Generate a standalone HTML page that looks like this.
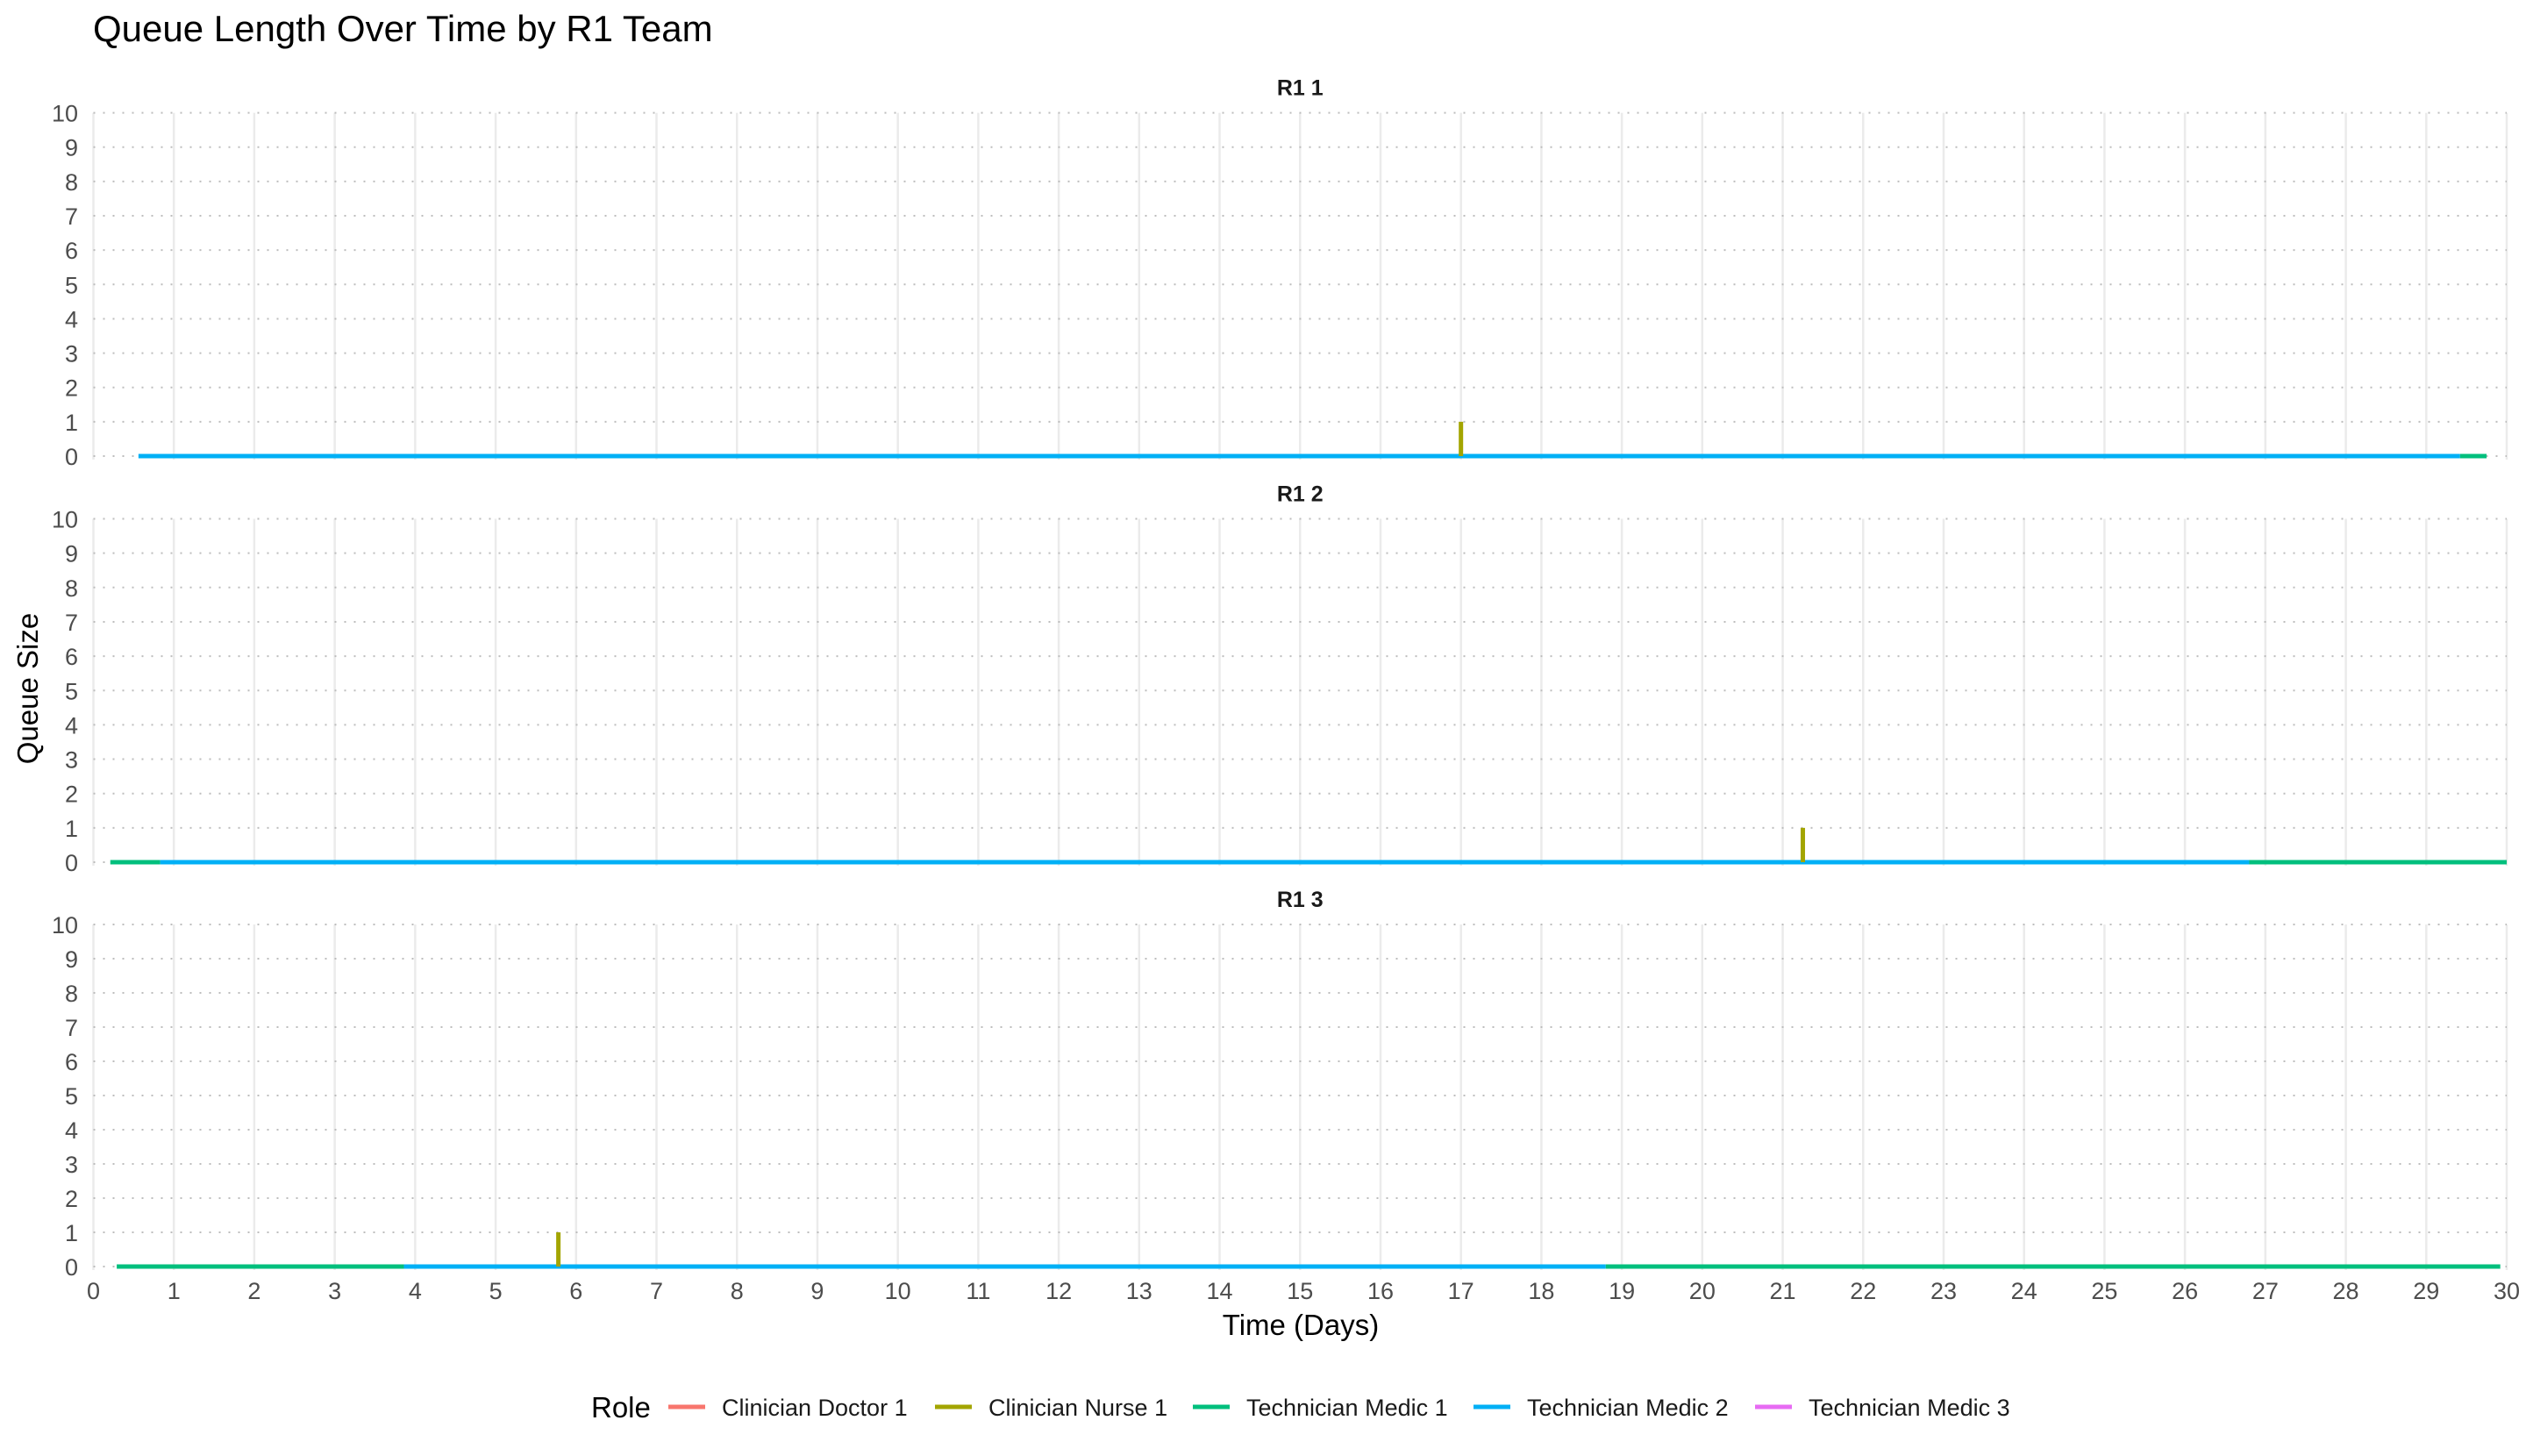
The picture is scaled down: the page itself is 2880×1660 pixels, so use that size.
<!DOCTYPE html>
<html><head><meta charset="utf-8"><style>
html,body{margin:0;padding:0;background:#fff;}
svg{display:block;font-family:"Liberation Sans",Arial,sans-serif;}
</style></head><body>
<svg id="chart" width="2880" height="1660" viewBox="0 0 2880 1660">
<text x="106" y="47" font-size="42" fill="#000">Queue Length Over Time by R1 Team</text>
<text x="1483" y="1522" font-size="33" fill="#000" text-anchor="middle">Time (Days)</text>
<text transform="translate(43,785) rotate(-90)" font-size="33" fill="#000" text-anchor="middle">Queue Size</text>
<g id="panels"></g>
<g id="legend"></g>
</svg>
<script>
const panelNames = ["R1 1", "R1 2", "R1 3"];
const roles = ["Clinician Doctor 1", "Clinician Nurse 1", "Technician Medic 1", "Technician Medic 2", "Technician Medic 3"];
const roleColors = ["#F8766D", "#A3A500", "#00BF7D", "#00B0F6", "#E76BF3"];
const xTicks = [0,1,2,3,4,5,6,7,8,9,10,11,12,13,14,15,16,17,18,19,20,21,22,23,24,25,26,27,28,29,30];
const yTicks = [0,1,2,3,4,5,6,7,8,9,10];
// baseline segments per panel: role index, start day, end day, queue value
const segPanel = [0,0, 1,1,1, 2,2,2];
const segRole  = [3,2, 2,3,2, 2,3,2];
const segStart = [0.56,29.42, 0.21,0.83,26.8, 0.29,3.86,18.8];
const segEnd   = [29.42,29.75, 0.83,26.8,30.0, 3.86,18.8,29.92];
const segValue = [0,0, 0,0,0, 0,0,0];
// nurse spikes
const spikePanel = [0,1,2];
const spikeTime  = [17.0,21.25,5.78];
const spikeValue = [1,1,1];

const NS="http://www.w3.org/2000/svg";
const X0=106.5, X1=2858;
const panelTop=[128.6,591.5,1054], panelBottom=[520,983,1444];
function xs(d){return X0+(d-0)/(30-0)*(X1-X0);}
function ys(p,v){return panelBottom[p]-(v/10)*(panelBottom[p]-panelTop[p]);}
function mk(tag,attrs,parent){const e=document.createElementNS(NS,tag);for(const k in attrs)e.setAttribute(k,attrs[k]);parent.appendChild(e);return e;}
const gp=document.getElementById('panels');
for(let p=0;p<3;p++){
  const g=mk('g',{},gp);
  
  
  const st=mk('text',{x:(X0+X1)/2,y:panelTop[p]-20,'font-size':25,'font-weight':'bold','text-anchor':'middle',fill:'#1a1a1a'},g);
  st.textContent=panelNames[p];
  
  
  xTicks.forEach(t=>{
    const l=mk('line',{x1:xs(t),x2:xs(t),y1:panelTop[p],y2:panelBottom[p]+4,stroke:'#ebebeb','stroke-width':2.5},g);
    
    
  });
  yTicks.forEach(t=>{
    const l=mk('line',{x1:X0,x2:X1,y1:ys(p,t),y2:ys(p,t),stroke:'#bdbdbd','stroke-width':2,'stroke-dasharray':'2 9'},g);
    
    
    const tx=mk('text',{x:89,y:ys(p,t)+10,'font-size':27,'text-anchor':'end',fill:'#4d4d4d'},g);
    tx.textContent=t;
    
    
  });
}
for(let i=0;i<segPanel.length;i++){
  const p=segPanel[i];
  const l=mk('line',{x1:xs(segStart[i]),x2:xs(segEnd[i]),y1:ys(p,segValue[i]),y2:ys(p,segValue[i]),stroke:roleColors[segRole[i]],'stroke-width':5},gp);
  
  
}
for(let i=0;i<spikePanel.length;i++){
  const p=spikePanel[i];
  const l=mk('line',{x1:xs(spikeTime[i]),x2:xs(spikeTime[i]),y1:ys(p,0),y2:ys(p,spikeValue[i]),stroke:roleColors[1],'stroke-width':5},gp);
  
  
}
xTicks.forEach(t=>{
  const tx=mk('text',{x:xs(t),y:1481,'font-size':27,'text-anchor':'middle',fill:'#4d4d4d'},gp);
  tx.textContent=t;
  
  
});
const lg=document.getElementById('legend');
const lt=mk('text',{x:674,y:1616,'font-size':33,fill:'#000'},lg);
lt.textContent='Role';


const keyX=[762,1066,1360,1680,2001];
roles.forEach((r,i)=>{
  const g=mk('g',{},lg);
  
  
  mk('line',{x1:keyX[i],x2:keyX[i]+42,y1:1604,y2:1604,stroke:roleColors[i],'stroke-width':5},g);
  const tx=mk('text',{x:keyX[i]+61,y:1614,'font-size':27,fill:'#1a1a1a'},g);
  tx.textContent=r;
});
</script>
</body></html>
